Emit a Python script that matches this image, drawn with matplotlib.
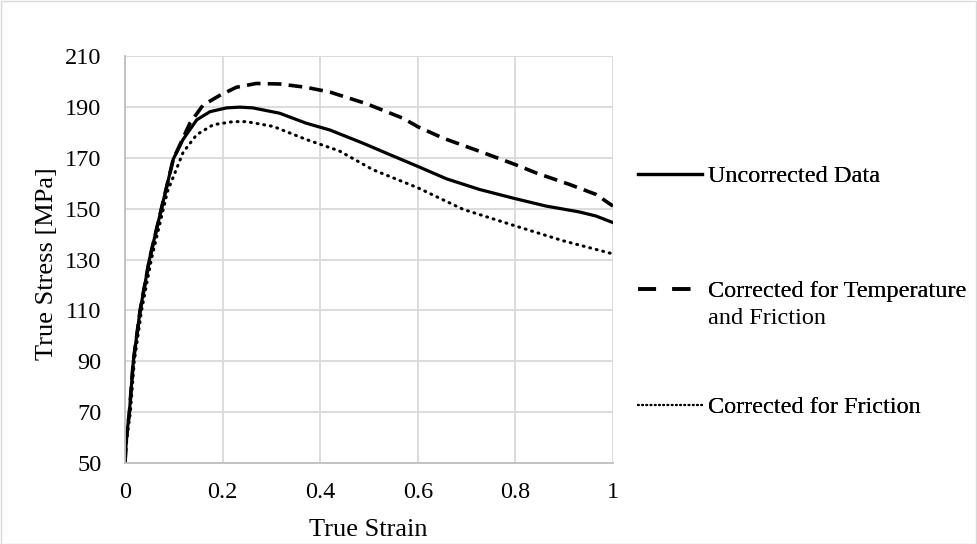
import matplotlib
matplotlib.use("Agg")
import matplotlib.pyplot as plt
from matplotlib.lines import Line2D
from matplotlib.patches import Rectangle

plt.rcParams['font.family'] = ['Liberation Serif', 'DejaVu Serif']

# Data
strain_unc = [0.0, 0.003, 0.009, 0.017, 0.031, 0.050, 0.072, 0.099, 0.119, 0.147, 0.174, 0.208, 0.235, 0.262,
              0.317, 0.371, 0.420, 0.488, 0.543, 0.60, 0.659, 0.727, 0.80, 0.863, 0.931, 0.965, 1.0]
stress_unc = [50, 60, 70, 90, 110, 130, 147.9, 169.5, 177.2, 184.9, 188.1, 189.6, 189.9, 189.6,
              187.5, 183.6, 180.9, 175.7, 171.2, 166.6, 161.7, 157.5, 153.9, 151.0, 148.7, 147.1, 144.5]

strain_tf = [0.0, 0.003, 0.009, 0.017, 0.031, 0.050, 0.072, 0.099, 0.119, 0.133, 0.16, 0.194, 0.228, 0.269,
             0.317, 0.371, 0.42, 0.494, 0.57, 0.60, 0.652, 0.727, 0.80, 0.843, 0.911, 0.965, 1.0]
stress_tf = [50, 60, 70, 90, 110, 130, 147.9, 169.5, 177.8, 183.6, 190.7, 194.5, 197.7, 199.2,
             199.0, 197.7, 195.8, 191.3, 185.5, 182.2, 177.7, 172.5, 167.3, 164.0, 159.5, 155.6, 151.0]

strain_f = [0.0, 0.004, 0.011, 0.019, 0.034, 0.054, 0.087, 0.119, 0.147, 0.181, 0.222, 0.249,
            0.304, 0.371, 0.439, 0.508, 0.60, 0.693, 0.80, 0.897, 1.0]
stress_f = [50, 60, 70, 90, 110, 130, 156.7, 172.1, 179.1, 183.0, 184.2, 184.2,
            182.3, 177.2, 172.7, 165.3, 158.2, 149.7, 143.2, 137.4, 132.2]

labels = ["Uncorrected Data", "Corrected for Temperature", "and Friction", "Corrected for Friction"]
xticks = [0, 0.2, 0.4, 0.6, 0.8, 1]
xticklabels = ["0", "0.2", "0.4", "0.6", "0.8", "1"]
yticks = [50, 70, 90, 110, 130, 150, 170, 190, 210]

W, H = 977, 544
fig = plt.figure(figsize=(W / 100, H / 100), dpi=100)
fig.patches.append(Rectangle((0.5 / W, 0.5 / H), 1 - 1.5 / W, 1 - 1.5 / H, transform=fig.transFigure,
                             fill=False, edgecolor='#d9d9d9', linewidth=1))

left, right, top, bottom = 125, 613, 56, 463
aw, ah = right - left, bottom - top
ax = fig.add_axes([left / W, 1 - bottom / H, aw / W, ah / H])

l1, = ax.plot(strain_unc, stress_unc, color='black', lw=2.3, solid_joinstyle='round')
l2, = ax.plot(strain_tf, stress_tf, color='black', lw=2.6, dashes=(3.8, 2.0))
l3, = ax.plot(strain_f, stress_f, color='black', lw=2.2, linestyle=(0, (0.3, 1.9)),
              dash_capstyle='round')

ax.set_xlim(0, 1)
ax.set_ylim(50, 210)
ax.set_xticks(xticks)
ax.set_xticklabels(xticklabels)
ax.set_yticks(yticks)
ax.grid(True, color='#d9d9d9', linewidth=1.3)
ax.set_axisbelow(True)
for s in ['top', 'right']:
    ax.spines[s].set_visible(False)
for s in ['left', 'bottom']:
    ax.spines[s].set_color('#bfbfbf')
    ax.spines[s].set_linewidth(1.3)
ax.tick_params(length=0, labelsize=17.5, colors='#404040', labelcolor='black')
ax.tick_params(axis='y', pad=17)
ax.tick_params(axis='x', pad=14)
ax.set_xlabel("True Strain", fontsize=19)
ax.set_ylabel("True Stress [MPa]", fontsize=19)
ax.xaxis.set_label_coords((368 - left) / aw, -(519 - bottom) / ah)
ax.yaxis.set_label_coords(-(left - 58) / aw, 0.49)

# Legend entries (proxy handles matching the chart's legend glyphs)
h1 = Line2D([], [], color='black', lw=2.3)
h2 = Line2D([], [], color='black', lw=2.6, dashes=(5.0, 4.5))
h3 = Line2D([], [], color='black', lw=1.6, linestyle=(0, (0.3, 1.6)), dash_capstyle='round')
entries = [(h1, labels[0], 176), (h2, labels[1], 291), (h3, labels[3], 407)]
for h, lab, yc in entries:
    lg = fig.legend([h], [lab], loc='center left', bbox_to_anchor=(638 / W, 1 - yc / H),
                    frameon=False, fontsize=17.5, handlelength=2.63, handletextpad=0.25,
                    borderaxespad=0, borderpad=0)
    fig.add_artist(lg)
fig.text(708 / W, 1 - 318 / H, labels[2], fontsize=17.5, va='center', ha='left')

fig.savefig("out.png", dpi=100)
